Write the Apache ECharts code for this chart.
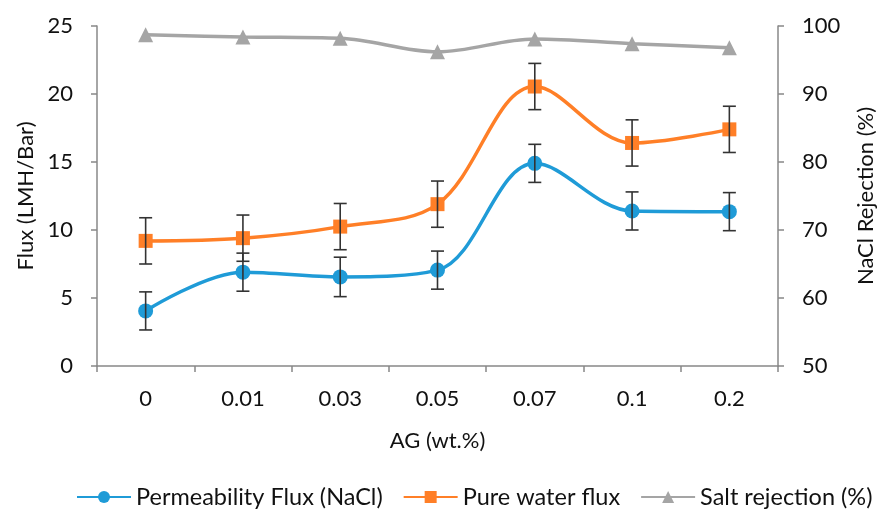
<!DOCTYPE html>
<html><head><meta charset="utf-8">
<script src="https://cdn.jsdelivr.net/npm/echarts@6/dist/echarts.min.js"></script>
<style>html,body{margin:0;padding:0;background:#fff}#c{width:887px;height:510px}</style>
</head><body><div id="c"></div>
<script>
var categories = ['0','0.01','0.03','0.05','0.07','0.1','0.2'];
var permeabilityFlux = [4.05, 6.9, 6.55, 7.05, 14.9, 11.4, 11.35];
var permeabilityErr = [1.4, 1.4, 1.45, 1.4, 1.4, 1.4, 1.4];
var pureWaterFlux = [9.2, 9.4, 10.25, 11.9, 20.55, 16.4, 17.4];
var pureWaterErr = [1.7, 1.7, 1.7, 1.7, 1.7, 1.7, 1.7];
var saltRejection = [98.7, 98.4, 98.2, 96.2, 98.1, 97.4, 96.8];
var leftTicks = [0, 25, 5];
var rightTicks = [50, 100, 10];

var FONT = 'Lato, "Open Sans", sans-serif';
function errData(vals, errs){ return vals.map(function(v,i){ return [i, v-errs[i], v+errs[i]]; }); }
function errRender(params, api){
  var x = api.value(0);
  var lo = api.coord([x, api.value(1)]);
  var hi = api.coord([x, api.value(2)]);
  var w = 6.5;
  var st = {stroke:'#333', lineWidth:1.6};
  return {type:'group', children:[
    {type:'line', shape:{x1:lo[0],y1:lo[1],x2:hi[0],y2:hi[1]}, style:st},
    {type:'line', shape:{x1:lo[0]-w,y1:lo[1],x2:lo[0]+w,y2:lo[1]}, style:st},
    {type:'line', shape:{x1:hi[0]-w,y1:hi[1],x2:hi[0]+w,y2:hi[1]}, style:st}
  ]};
}
var axisLine = {show:true, lineStyle:{color:'#888', width:1.5}};
var axisTick = {show:true, length:6, lineStyle:{color:'#888', width:1.5}};
var chart = echarts.init(document.getElementById('c'));
chart.setOption({
  animation:false,
  textStyle:{fontFamily:FONT},
  grid:{left:97, right:109, top:26, bottom:144, containLabel:false},
  legend:{
    top:485, left:76, padding:0, itemWidth:54, itemHeight:15, itemGap:20,
    textStyle:{fontSize:23.5, color:'#111', fontFamily:FONT},
    data:['Permeability Flux (NaCl)','Pure water flux','Salt rejection (%)']
  },
  xAxis:{
    type:'category', data:categories, boundaryGap:true,
    name:'AG (wt.%)', nameLocation:'middle', nameGap:64,
    nameTextStyle:{fontSize:22, color:'#111'},
    axisLine:axisLine, axisTick:axisTick,
    axisLabel:{fontSize:22, color:'#111', margin:22}
  },
  yAxis:[{
    type:'value', min:leftTicks[0], max:leftTicks[1], interval:leftTicks[2],
    name:'Flux (LMH/Bar)', nameLocation:'middle', nameGap:56, nameRotate:90,
    nameTextStyle:{fontSize:22, color:'#111'},
    axisLine:axisLine, axisTick:axisTick, splitLine:{show:false},
    axisLabel:{fontSize:22, color:'#111', margin:24}
  },{
    type:'value', min:rightTicks[0], max:rightTicks[1], interval:rightTicks[2], position:'right',
    name:'NaCl Rejection (%)', nameLocation:'middle', nameGap:77, nameRotate:90,
    nameTextStyle:{fontSize:22, color:'#111'},
    axisLine:axisLine, axisTick:axisTick, splitLine:{show:false},
    axisLabel:{fontSize:22, color:'#111', margin:24}
  }],
  series:[
    {name:'Permeability Flux (NaCl)', type:'line', data:permeabilityFlux, smooth:0.35, yAxisIndex:0,
     symbol:'circle', symbolSize:15, itemStyle:{color:'#1f9bd7'}, lineStyle:{width:3.5, color:'#1f9bd7'}, z:3},
    {name:'Pure water flux', type:'line', data:pureWaterFlux, smooth:0.35, yAxisIndex:0,
     symbol:'rect', symbolSize:14, itemStyle:{color:'#ff7f27'}, lineStyle:{width:3.5, color:'#ff7f27'}, z:3},
    {name:'Salt rejection (%)', type:'line', data:saltRejection, smooth:0.35, yAxisIndex:1,
     symbol:'triangle', symbolSize:15, itemStyle:{color:'#a5a5a5'}, lineStyle:{width:3.5, color:'#a5a5a5'}, z:3},
    {type:'custom', yAxisIndex:0, data:errData(permeabilityFlux, permeabilityErr), renderItem:errRender, z:4, silent:true},
    {type:'custom', yAxisIndex:0, data:errData(pureWaterFlux, pureWaterErr), renderItem:errRender, z:4, silent:true}
  ]
});
</script></body></html>
